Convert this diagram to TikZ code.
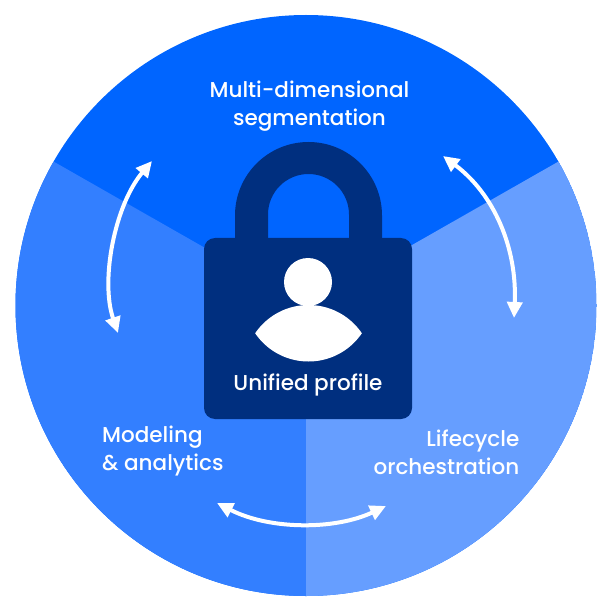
\documentclass[tikz,border=0pt]{standalone}
\usepackage{fontspec}
\setmainfont{Poppins}[UprightFont=* Medium,BoldFont=* SemiBold]
\usetikzlibrary{arrows.meta}
\definecolor{segtop}{HTML}{0065FF}
\definecolor{segleft}{HTML}{337FFF}
\definecolor{segright}{HTML}{669EFF}
\definecolor{lockblue}{HTML}{002F7F}
\tikzset{
  label/.style={text=white,font=\fontsize{21.5}{28}\selectfont,inner sep=0pt,align=center},
  cycle/.style={draw=white,line width=4pt,{Triangle[length=16pt,width=15pt]}-{Triangle[length=16pt,width=15pt]}}
}
\begin{document}
\begin{tikzpicture}[x=1pt,y=-1pt]
\useasboundingbox (0,0) rectangle (605,604);
\coordinate (c) at (306,305.5);
\begin{scope}
  \clip (c) circle (290.5pt);
  \fill[segtop] (c) circle (291pt);
  \fill[segleft] (c) -- (306,600) -- (0,600) -- (0,131) -- cycle;
  \fill[segright] (c) -- (306,600) -- (605,600) -- (605,135) -- cycle;
\end{scope}
% lock
\fill[lockblue] (235,245) -- (235,215.5) arc[start angle=180,end angle=0,radius=73.5pt] -- (382,245) -- (349,245) -- (349,214.5) arc[start angle=0,end angle=180,radius=40.5pt] -- (268,245) -- cycle;
\fill[lockblue,rounded corners=11pt] (204,238) rectangle (412,419);
% person
\fill[white] (308,282) circle (24pt);
\begin{scope}
  \clip (308.5,369.5) circle (64.5pt);
  \fill[white] (308.5,297) circle (64.5pt);
\end{scope}
% labels
\node[label] (unified) at (308,385.5) {Unified profile};
\node[label] (seg) at (309.5,106) {Multi-dimensional\\segmentation};
\node[label,align=left,anchor=west] (model) at (102,451) {Modeling\\\& analytics};
\node[label,align=right,anchor=east] (life) at (519.5,452) {Lifecycle\\orchestration};
% arrows
\coordinate (ra) at (443,156);
\coordinate (rb) at (514,318);
\coordinate (la) at (152,161);
\coordinate (lb) at (118,333);
\coordinate (ba) at (217,503);
\coordinate (bb) at (386,506);
\draw[cycle] (ra) .. controls (494,194) and (517.3,248) .. (rb);
\draw[cycle] (la) .. controls (115,205) and (100,280) .. (lb);
\draw[cycle] (ba) .. controls (270,530) and (335,530) .. (bb);
\end{tikzpicture}
\end{document}
